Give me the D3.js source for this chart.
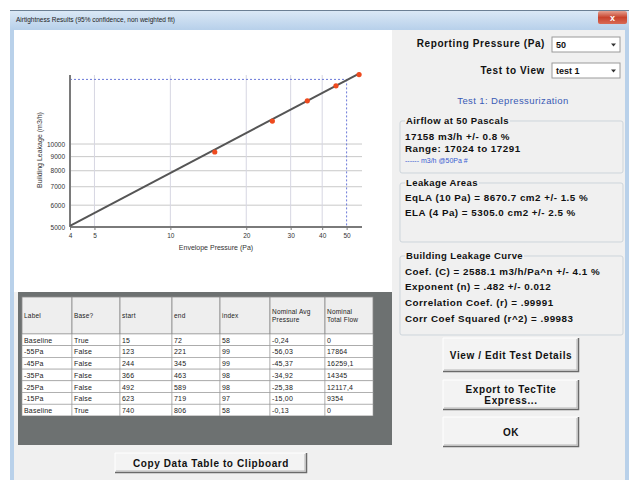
<!DOCTYPE html>
<html><head><meta charset="utf-8">
<script src="https://cdn.jsdelivr.net/npm/d3@7"></script>
<style>body{margin:0;background:#fff;} svg{display:block;font-family:"Liberation Sans",Arial,sans-serif;}</style>
</head><body><svg id="c" width="629" height="480"></svg>
<script>
// ---- data ----
const colHeaders = [["Label"],["Base?"],["start"],["end"],["index"],["Nominal Avg","Pressure"],["Nominal","Total Flow"]];
const rowLabels = ["Baseline","-55Pa","-45Pa","-35Pa","-25Pa","-15Pa","Baseline"];
const rowBase = ["True","False","False","False","False","False","True"];
const rowStart = [15,123,244,366,492,623,740];
const rowEnd = [72,221,345,463,589,719,806];
const rowIndex = [58,99,99,98,98,97,58];
const rowPressure = [-0.24,-56.03,-45.37,-34.92,-25.38,-15.00,-0.13];
const rowFlow = [0,17864,16259.1,14345,12117.4,9354,0];
const xTicks = [4,5,10,20,30,40,50];
const yTicks = [5000,6000,7000,8000,9000,10000];
const fitC = 2588.1, fitN = 0.482;
const fitRange = [4,56.5];
const reportP = 50, reportQ = 17158;

const svg = d3.select("#c");
const F = '"Liberation Sans",Arial,sans-serif';
const LS = 0.6;

// ---- window chrome ----
svg.append("rect").attr("x",10).attr("y",10).attr("width",619).attr("height",470).attr("fill","#b9d1ea");
const defs = svg.append("defs");
const tg = defs.append("linearGradient").attr("id","tb").attr("x1",0).attr("y1",0).attr("x2",0).attr("y2",1);
tg.append("stop").attr("offset",0).attr("stop-color","#dce9f6");
tg.append("stop").attr("offset",1).attr("stop-color","#b7d0ea");
svg.append("rect").attr("x",10).attr("y",10).attr("width",619).attr("height",20).attr("fill","url(#tb)");
svg.append("line").attr("x1",10).attr("x2",629).attr("y1",10.5).attr("y2",10.5).attr("stroke","#6b7f94");
svg.append("text").attr("x",16).attr("y",22).attr("font-size",6.5).attr("fill","#222")
  .text("Airtightness Results (95% confidence, non weighted fit)");
const cg = defs.append("linearGradient").attr("id","cb").attr("x1",0).attr("y1",0).attr("x2",0).attr("y2",1);
cg.append("stop").attr("offset",0).attr("stop-color","#e5a090");
cg.append("stop").attr("offset",0.5).attr("stop-color","#c8432d");
cg.append("stop").attr("offset",1).attr("stop-color","#d86a55");
svg.append("rect").attr("x",598).attr("y",11).attr("width",29).attr("height",13).attr("rx",2).attr("fill","url(#cb)");
svg.append("text").attr("x",612.5).attr("y",21).attr("text-anchor","middle").attr("font-size",9).attr("font-weight","bold").attr("fill","#fff").text("x");

svg.append("rect").attr("x",14).attr("y",30).attr("width",611).attr("height",450).attr("fill","#f0f0f0");
svg.append("rect").attr("x",14).attr("y",30).attr("width",378).attr("height",262).attr("fill","#ffffff");

// ---- chart ----
const x = d3.scaleLog().domain([4,56.5]).range([70,360]);
const y = d3.scaleLog().domain([5000,17800]).range([227,75]);

const g = svg.append("g");
g.selectAll(".hg").data(yTicks.slice(1)).join("line")
  .attr("x1",70).attr("x2",362).attr("y1",d=>y(d)).attr("y2",d=>y(d))
  .attr("stroke","#c9c9c9").attr("stroke-width",1);
g.selectAll(".vg").data(xTicks.filter(d=>d>4 && d<50)).join("line")
  .attr("x1",d=>x(d)).attr("x2",d=>x(d)).attr("y1",75).attr("y2",227)
  .attr("stroke","#d6d6e2").attr("stroke-width",1);
g.append("line").attr("x1",70).attr("x2",x(reportP)).attr("y1",y(reportQ)).attr("y2",y(reportQ))
  .attr("stroke","#6a78d8").attr("stroke-width",1).attr("stroke-dasharray","2,2");
g.append("line").attr("x1",x(reportP)).attr("x2",x(reportP)).attr("y1",y(reportQ)).attr("y2",227)
  .attr("stroke","#6a78d8").attr("stroke-width",1).attr("stroke-dasharray","2,2");

const xa = g.append("g").attr("transform","translate(0,227)")
  .call(d3.axisBottom(x).tickValues(xTicks).tickFormat(d3.format("d")).tickSize(3).tickPadding(3));
const ya = g.append("g").attr("transform","translate(70,0)")
  .call(d3.axisLeft(y).tickValues(yTicks).tickFormat(d3.format("d")).tickSize(0).tickPadding(5));
[xa,ya].forEach(a=>{
  a.select(".domain").attr("stroke","#7a7a7a").attr("stroke-width",2);
  a.selectAll(".tick line").attr("stroke","#7a7a7a");
  a.selectAll("text").attr("font-size",6.5).attr("font-family",F).attr("fill","#333");
});
ya.select(".domain").attr("d","M0,227V75");
xa.select(".domain").attr("d","M70,0H362");

g.append("text").attr("x",216).attr("y",250).attr("text-anchor","middle").attr("font-size",7).attr("fill","#333")
  .text("Envelope Pressure (Pa)");
g.append("text").attr("transform","translate(42,150) rotate(-90)").attr("text-anchor","middle").attr("font-size",7).attr("fill","#333")
  .text("Building Leakage (m3/h)");

g.append("path").datum(fitRange)
  .attr("d",d3.line().x(p=>x(p)).y(p=>y(fitC*Math.pow(p,fitN))))
  .attr("stroke","#555").attr("stroke-width",2).attr("fill","none");

const pts = rowPressure.map((p,i)=>({p:-p,q:rowFlow[i],base:rowBase[i]})).filter(d=>d.base==="False");
g.selectAll(".pt").data(pts).join("circle")
  .attr("cx",d=>x(d.p)).attr("cy",d=>y(d.q)).attr("r",2.6).attr("fill","#ee4a1e");

// ---- table ----
svg.append("rect").attr("x",18).attr("y",292).attr("width",374).attr("height",153).attr("fill","#6d7171");
const colX = [22,72,120,172,220,270,325,373];
const headTop = 297, headH = 37, rowH = 11.7;
const tbl = svg.append("g");
const fmtP = v => v.toFixed(2).replace(".",",");
const fmtQ = v => String(v).replace(".",",");
const rows = rowLabels.map((l,i)=>[l,rowBase[i],rowStart[i],rowEnd[i],rowIndex[i],fmtP(rowPressure[i]),fmtQ(rowFlow[i])]);
colHeaders.forEach((h,c)=>{
  tbl.append("rect").attr("x",colX[c]).attr("y",headTop).attr("width",colX[c+1]-colX[c]).attr("height",headH)
    .attr("fill","#eeeeee").attr("stroke","#8a8a8a").attr("stroke-width",0.8);
  h.forEach((t,k)=>{
    tbl.append("text").attr("x",colX[c]+2).attr("y",headTop+headH/2+2.5 + (k-(h.length-1)/2)*8)
      .attr("font-size",6.5).attr("letter-spacing",0.2).attr("fill","#222").text(t);
  });
});
rows.forEach((r,ri)=>{
  const ty = headTop+headH+ri*rowH;
  r.forEach((v,c)=>{
    tbl.append("rect").attr("x",colX[c]).attr("y",ty).attr("width",colX[c+1]-colX[c]).attr("height",rowH)
      .attr("fill","#fff").attr("stroke","#9a9a9a").attr("stroke-width",0.6);
    tbl.append("text").attr("x",colX[c]+2).attr("y",ty+rowH-3).attr("font-size",7).attr("letter-spacing",0.2).attr("fill","#222").text(v);
  });
});
svg.append("rect").attr("x",18).attr("y",416).attr("width",374).attr("height",29).attr("fill","#6d7171");

// ---- buttons ----
function button(x0,y0,w,h,lines){
  const b = svg.append("g");
  b.append("rect").attr("x",x0).attr("y",y0).attr("width",w).attr("height",h).attr("fill","#f3f3f3");
  b.append("path").attr("d",`M${x0},${y0+h}V${y0}H${x0+w}`).attr("stroke","#ffffff").attr("fill","none");
  b.append("path").attr("d",`M${x0},${y0+h-0.5}H${x0+w-0.5}V${y0}`).attr("stroke","#6a6a6a").attr("stroke-width",1.5).attr("fill","none");
  b.append("path").attr("d",`M${x0+1},${y0+h-2}H${x0+w-2}V${y0+1}`).attr("stroke","#b5b5b5").attr("fill","none");
  lines.forEach((t,k)=>{
    b.append("text").attr("x",x0+w/2).attr("y",y0+h/2+3.5+(k-(lines.length-1)/2)*11)
      .attr("text-anchor","middle").attr("font-size",10).attr("letter-spacing",LS).attr("font-weight","bold").attr("fill","#111").text(t);
  });
}
button(115,453,192,20,["Copy Data Table to Clipboard"]);
button(443,338,136,34,["View / Edit Test Details"]);
button(443,380,136,30,["Export to TecTite","Express..."]);
button(443,417,136,30,["OK"]);

// ---- right panel controls ----
function label(xr,yy,t){svg.append("text").attr("x",xr).attr("y",yy).attr("text-anchor","end").attr("font-size",10).attr("letter-spacing",LS).attr("font-weight","bold").attr("fill","#111").text(t);}
function combo(x0,y0,w,h,t){
  svg.append("rect").attr("x",x0).attr("y",y0).attr("width",w).attr("height",h).attr("fill","#fff").attr("stroke","#9a9a9a");
  svg.append("text").attr("x",x0+4).attr("y",y0+h-4).attr("font-size",9).attr("font-weight","bold").attr("fill","#111").text(t);
  svg.append("path").attr("d",`M${x0+w-9},${y0+h/2-1}l2.5,3l2.5,-3z`).attr("fill","#333");
}
label(545,47,"Reporting Pressure (Pa)");
combo(552,37,68,15,"50");
label(545,74,"Test to View");
combo(552,63,68,15,"test 1");
svg.append("text").attr("x",513).attr("y",104).attr("text-anchor","middle").attr("font-size",9.5).attr("letter-spacing",0.4).attr("fill","#3a5bb5").text("Test 1: Depressurization");

function groupBox(x0,y0,w,h,title,lines){
  svg.append("rect").attr("x",x0).attr("y",y0).attr("width",w).attr("height",h).attr("fill","none").attr("stroke","#cdd5db").attr("rx",2);
  const bg = svg.append("rect");
  const tt = svg.append("text").attr("x",x0+6).attr("y",y0+3).attr("font-size",9.5).attr("letter-spacing",0.4).attr("font-weight","bold").attr("fill","#111").text(title);
  const bb = tt.node().getBBox();
  bg.attr("x",bb.x-1).attr("y",y0-1.5).attr("width",bb.width+2).attr("height",3).attr("fill","#f0f0f0");
  lines.forEach(l=>{
    svg.append("text").attr("x",x0+5).attr("y",l.y).attr("font-size",l.size||9.8).attr("letter-spacing",l.size?0:0.5).attr("font-weight",l.w||"bold")
      .attr("fill",l.c||"#111").text(l.t);
  });
}
groupBox(400,121,223,52,"Airflow at 50 Pascals",[
  {t:"17158 m3/h +/- 0.8 %",y:140},
  {t:"Range: 17024 to 17291",y:152},
  {t:"------ m3/h @50Pa #",y:163,size:7,w:"normal",c:"#3a5bd0"}]);
groupBox(400,183,223,59,"Leakage Areas",[
  {t:"EqLA (10 Pa) = 8670.7 cm2  +/- 1.5 %",y:201},
  {t:"ELA (4 Pa) = 5305.0 cm2  +/- 2.5 %",y:216}]);
groupBox(400,256,223,79,"Building Leakage Curve",[
  {t:"Coef. (C) = "+fitC.toFixed(1)+" m3/h/Pa^n  +/- 4.1 %",y:275},
  {t:"Exponent (n) = "+String(fitN).replace(/^0/,"")+" +/- 0.012",y:290},
  {t:"Correlation Coef. (r) = .99991",y:306},
  {t:"Corr Coef Squared (r^2) = .99983",y:322}]);
</script></body></html>
